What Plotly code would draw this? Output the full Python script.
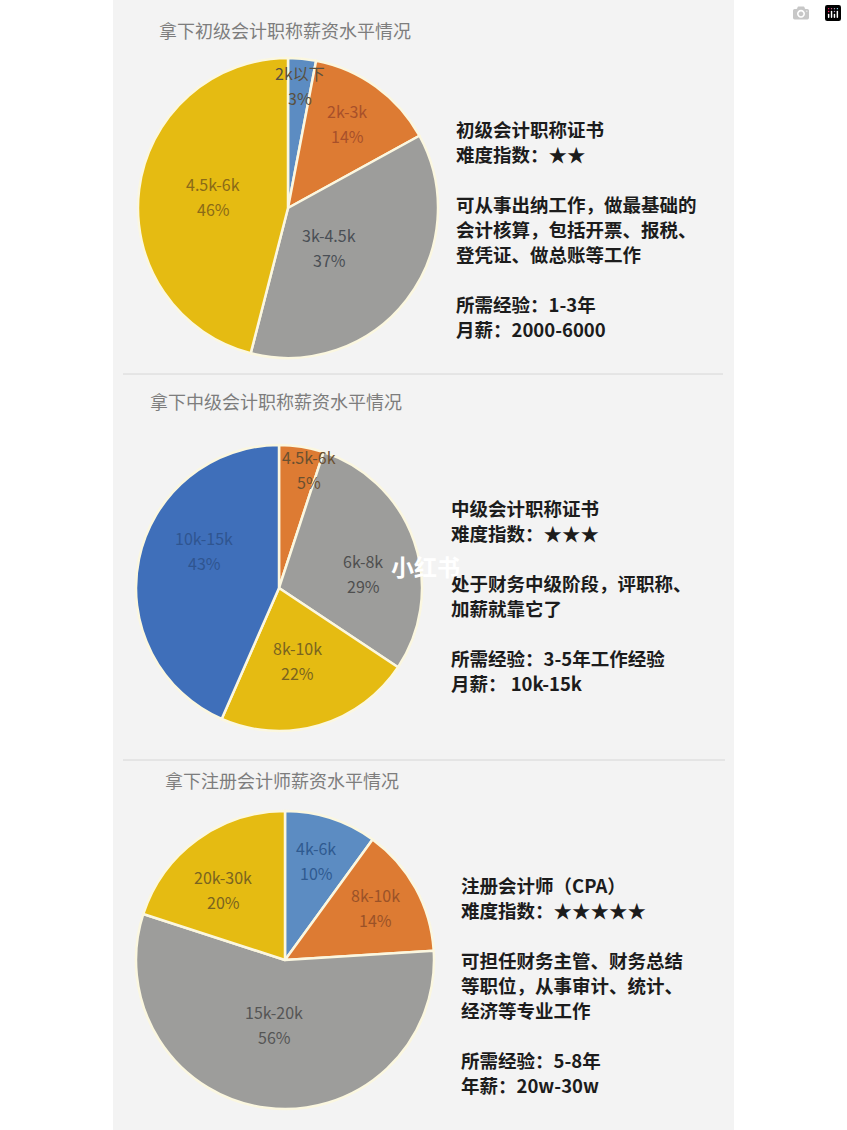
import plotly.graph_objects as go

W, H = 847, 1130
CJK = "Noto Sans CJK SC"

# chart 1
junior_labels = ["2k以下", "2k-3k", "3k-4.5k", "4.5k-6k"]
junior_values = [3, 14, 37, 46]
# chart 2
middle_labels = ["4.5k-6k", "6k-8k", "8k-10k", "10k-15k"]
middle_values = [5, 29, 22, 43]
# chart 3
cpa_labels = ["4k-6k", "8k-10k", "15k-20k", "20k-30k"]
cpa_values = [10, 14, 56, 20]

titles = ["拿下初级会计职称薪资水平情况", "拿下中级会计职称薪资水平情况", "拿下注册会计师薪资水平情况"]

junior_notes = ["初级会计职称证书", "难度指数：★★", "", "可从事出纳工作，做最基础的", "会计核算，包括开票、报税、",
                "登凭证、做总账等工作", "", "所需经验：1-3年", "月薪：2000-6000"]
middle_notes = ["中级会计职称证书", "难度指数：★★★", "", "处于财务中级阶段，评职称、", "加薪就靠它了", "",
                "所需经验：3-5年工作经验", "月薪： 10k-15k"]
cpa_notes = ["注册会计师（CPA）", "难度指数：★★★★★", "", "可担任财务主管、财务总结", "等职位，从事审计、统计、",
             "经济等专业工作", "", "所需经验：5-8年", "年薪：20w-30w"]

BLUE, ORANGE, GRAY, YELLOW = "#5c8cc2", "#dd7b33", "#9d9d9b", "#e5bb12"
DARK_BLUE = "#3f6fba"

# layout of each panel, in page pixels
panels = [
    dict(labels=junior_labels, values=junior_values, notes=junior_notes, title=titles[0],
         cx=288, cy=208, r=150, colors=[BLUE, ORANGE, GRAY, YELLOW],
         title_xy=(157, 30), notes_xy=(454, 129),
         label_xy=[(300, 73), (347, 111), (329, 235), (213, 184)],
         label_colors=["#5a5040", "#a8502a", "#4a4f55", "#8a6a18"]),
    dict(labels=middle_labels, values=middle_values, notes=middle_notes, title=titles[1],
         cx=279, cy=588, r=143, colors=[ORANGE, GRAY, YELLOW, DARK_BLUE],
         title_xy=(148, 401), notes_xy=(449, 508),
         label_xy=[(309, 457), (363, 561), (297, 648), (204, 538)],
         label_colors=["#6a5030", "#4f4f4f", "#7a6420", "#2f5590"]),
    dict(labels=cpa_labels, values=cpa_values, notes=cpa_notes, title=titles[2],
         cx=285, cy=960, r=149, colors=[BLUE, ORANGE, GRAY, YELLOW],
         title_xy=(163, 780), notes_xy=(459, 885),
         label_xy=[(316, 848), (375, 895), (274, 1012), (223, 877)],
         label_colors=["#2f5a90", "#9a5228", "#555555", "#7a6420"]),
]


def px(x):
    return x / W


def py(y):
    return 1 - y / H


fig = go.Figure()
annotations = []


def add_text(x, y, text, size, color, xanchor="left", bold=False):
    if bold:
        text = "<b>" + text + "</b>"
    annotations.append(dict(x=px(x), y=py(y), xref="paper", yref="paper", text=text, showarrow=False,
                            xanchor=xanchor, yanchor="middle", xshift=0, align=xanchor,
                            font=dict(family=CJK, size=size, color=color)))


for p in panels:
    fig.add_trace(go.Pie(
        labels=p["labels"], values=p["values"], sort=False, direction="clockwise", rotation=0,
        textinfo="none", hoverinfo="label+percent", showlegend=False,
        marker=dict(colors=p["colors"], line=dict(color="#fbf7e0", width=2.5)),
        domain=dict(x=[px(p["cx"] - p["r"]), px(p["cx"] + p["r"])],
                    y=[py(p["cy"] + p["r"]), py(p["cy"] - p["r"])]),
    ))
    add_text(p["title_xy"][0], p["title_xy"][1], p["title"], 18, "#7d7d7d")
    # slice labels: name on top, percent below
    for name, val, xy, col in zip(p["labels"], p["values"], p["label_xy"], p["label_colors"]):
        add_text(xy[0], xy[1], name, 16, col, xanchor="center")
        add_text(xy[0], xy[1] + 25, str(val) + "%", 16, col, xanchor="center")
    # side notes
    for i, line in enumerate(p["notes"]):
        if line:
            add_text(p["notes_xy"][0], p["notes_xy"][1] + i * 25, line, 18.5, "#1c1c1c", bold=True)

# watermark
add_text(425, 566, "小红书", 23, "#ffffff", xanchor="center", bold=True)

shapes = [
    dict(type="rect", xref="paper", yref="paper", x0=px(113), x1=px(734), y0=0, y1=1,
         fillcolor="#f3f3f3", line_width=0, layer="below"),
    dict(type="line", xref="paper", yref="paper", x0=px(123), x1=px(723), y0=py(374), y1=py(374),
         line=dict(color="#d6d6d6", width=1), layer="below"),
    dict(type="line", xref="paper", yref="paper", x0=px(123), x1=px(725), y0=py(760), y1=py(760),
         line=dict(color="#d6d6d6", width=1), layer="below"),
]

fig.update_layout(width=W, height=H, margin=dict(l=0, r=0, t=0, b=0), paper_bgcolor="#ffffff",
                  plot_bgcolor="#ffffff", annotations=annotations, shapes=shapes)

fig.write_html("out.html", post_script="document.body.style.margin='0';")
